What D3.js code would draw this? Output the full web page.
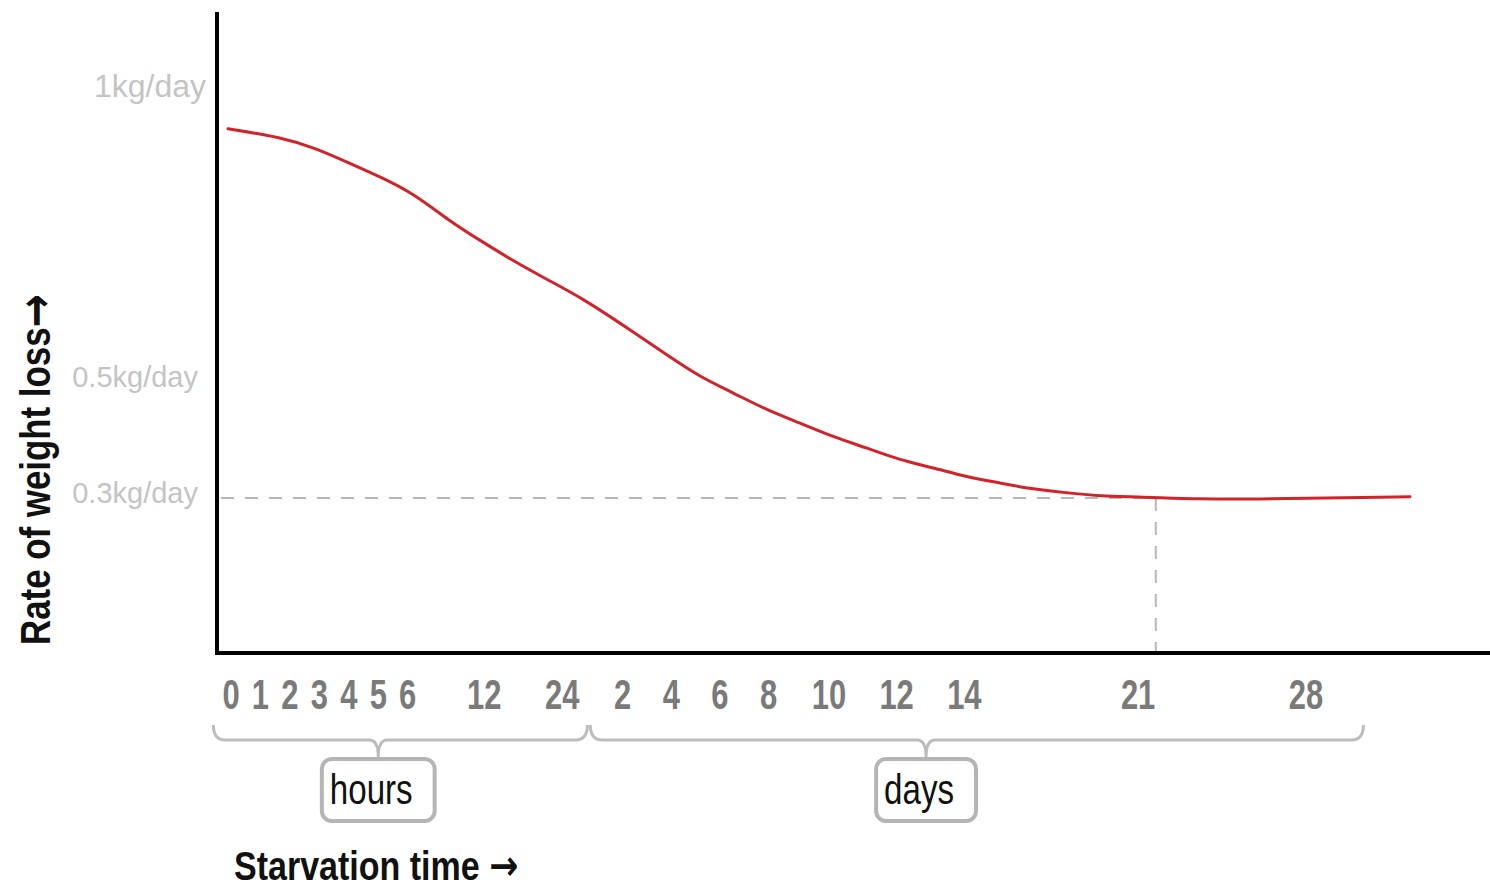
<!DOCTYPE html>
<html>
<head>
<meta charset="utf-8">
<script src="https://cdn.jsdelivr.net/npm/d3@7"></script>
<style>
  html, body { margin: 0; padding: 0; background: #fff; }
  svg { display: block; }
</style>
</head>
<body>
<svg id="chart" width="1490" height="891"></svg>
<script>
// ---- data ----
const tickLabels = ["0","1","2","3","4","5","6","12","24","2","4","6","8","10","12","14","21","28"];
// position of each tick along the (schematic, non-uniform) time axis, in axis units
const tickPos = [0, 1, 2, 3, 4, 5, 6, 8.6, 11.25, 13.3, 14.95, 16.6, 18.25, 20.3, 22.6, 24.9, 30.8, 36.5];

const yTickValues = [1, 0.5, 0.3];
const yTickLabels = ["1kg/day", "0.5kg/day", "0.3kg/day"];

// rate of weight loss curve (axis units, kg/day)
const curvePos = [-0.1, 1.73, 2.85, 3.97, 5.13, 6.25, 7.37, 8.52, 9.64, 10.76, 11.92, 13.65, 14.8, 15.93, 17.05, 18.2, 19.32, 20.44, 21.6, 22.72, 23.84, 24.99, 26.11, 27.23, 28.39, 29.51, 30.87, 32.9, 34.94, 36.98, 40.03];
const curveRate = [0.935, 0.92, 0.902, 0.877, 0.851, 0.822, 0.778, 0.741, 0.706, 0.675, 0.644, 0.586, 0.546, 0.508, 0.481, 0.451, 0.429, 0.405, 0.386, 0.365, 0.352, 0.336, 0.326, 0.315, 0.309, 0.303, 0.302, 0.298, 0.298, 0.3, 0.302];

const plateauRate = 0.3;
const plateauPos = 31.4;

const groupLabels = ["hours", "days"];
const groupStart = [-0.6, 12.2];
const groupEnd = [12.1, 38.45];
const groupMid = [5.0, 23.6];

const xTitle = "Starvation time ";
const yTitle = "Rate of weight loss";
const arrow = "\u2192";

// ---- layout ----
const axisX = 217, axisTop = 12, axisBottom = 653, axisRight = 1490;

const x = d3.scaleLinear().domain([0, 36.5]).range([231, 1306]);
const y = d3.scaleLinear().domain([0.3, 1]).range([498, 91]);

const svg = d3.select("#chart");
const FONT = "'Liberation Sans', Arial, Helvetica, sans-serif";

// dashed reference lines
svg.append("line")
  .attr("x1", axisX + 4).attr("x2", x(plateauPos))
  .attr("y1", y(plateauRate)).attr("y2", y(plateauRate))
  .attr("stroke", "#b8b8b8").attr("stroke-width", 2)
  .attr("stroke-dasharray", "13,11");
svg.append("line")
  .attr("x1", x(plateauPos)).attr("x2", x(plateauPos))
  .attr("y1", y(plateauRate)).attr("y2", axisBottom)
  .attr("stroke", "#b8b8b8").attr("stroke-width", 2)
  .attr("stroke-dasharray", "13,11");

// curve
const pts = curvePos.map((p, i) => [p, curveRate[i]]);
svg.append("path")
  .datum(pts)
  .attr("fill", "none")
  .attr("stroke", "#d2232a")
  .attr("stroke-width", 3)
  .attr("stroke-linecap", "round")
  .attr("d", d3.line().x(d => x(d[0])).y(d => y(d[1])).curve(d3.curveBasis));

// axes
svg.append("line")
  .attr("x1", axisX).attr("x2", axisX).attr("y1", axisTop).attr("y2", axisBottom + 2)
  .attr("stroke", "#000").attr("stroke-width", 4);
svg.append("line")
  .attr("x1", axisX - 2).attr("x2", axisRight).attr("y1", axisBottom).attr("y2", axisBottom)
  .attr("stroke", "#000").attr("stroke-width", 4);

// y tick labels
svg.selectAll("text.ytick")
  .data(yTickValues)
  .join("text")
  .attr("class", "ytick")
  .attr("x", (d, i) => i === 0 ? 206 : 198)
  .attr("y", d => y(d) - 5)
  .attr("dy", "0.35em")
  .attr("text-anchor", "end")
  .attr("font-family", FONT)
  .attr("font-size", (d, i) => i === 0 ? 32 : 29)
  .attr("fill", "#c4c4c4")
  .text((d, i) => yTickLabels[i]);

// x tick labels (condensed)
svg.selectAll("text.xtick")
  .data(tickPos)
  .join("text")
  .attr("class", "xtick")
  .attr("transform", d => `translate(${x(d)},709) scale(0.72,1)`)
  .attr("text-anchor", "middle")
  .attr("font-family", FONT)
  .attr("font-weight", "bold")
  .attr("font-size", 43)
  .attr("fill", "#7a7a7a")
  .text((d, i) => tickLabels[i]);

// braces + boxes
const braceTop = 725, braceY = 740, tipY = 757;
groupLabels.forEach((lab, i) => {
  const x0 = x(groupStart[i]), x1 = x(groupEnd[i]), xm = x(groupMid[i]);
  const r = 12;
  const p = d3.path();
  p.moveTo(x0, braceTop);
  p.quadraticCurveTo(x0, braceY, x0 + r, braceY);
  p.lineTo(xm - 9, braceY);
  p.quadraticCurveTo(xm, braceY, xm, tipY);
  p.quadraticCurveTo(xm, braceY, xm + 9, braceY);
  p.lineTo(x1 - r, braceY);
  p.quadraticCurveTo(x1, braceY, x1, braceTop);
  svg.append("path").attr("d", p.toString())
    .attr("fill", "none").attr("stroke", "#bdbdbd").attr("stroke-width", 3);

  const sx = 0.77;
  const t = svg.append("text")
    .attr("transform", `translate(${xm - 7},804) scale(${sx},1)`)
    .attr("text-anchor", "middle")
    .attr("font-family", FONT)
    .attr("font-size", 43)
    .attr("fill", "#111")
    .text(lab);
  const w = t.node().getComputedTextLength() * sx + 30;
  svg.insert("rect", "text")
    .attr("x", xm - w / 2).attr("y", 759)
    .attr("width", w).attr("height", 62)
    .attr("rx", 10)
    .attr("fill", "#fff").attr("stroke", "#b5b5b5").attr("stroke-width", 4);
});

// axis titles
const xt = svg.append("text")
  .attr("transform", "translate(234,880) scale(0.83,1)")
  .attr("font-family", FONT)
  .attr("font-weight", "bold")
  .attr("font-size", 41)
  .attr("fill", "#111");
xt.append("tspan").text(xTitle);
xt.append("tspan").attr("font-family", "'DejaVu Sans', sans-serif").attr("font-size", 42).text(arrow);

const yt = svg.append("text")
  .attr("transform", "translate(50,645) rotate(-90) scale(0.83,1)")
  .attr("font-family", FONT)
  .attr("font-weight", "bold")
  .attr("font-size", 42)
  .attr("fill", "#111");
yt.append("tspan").text(yTitle);
yt.append("tspan").attr("font-family", "'DejaVu Sans', sans-serif").attr("font-size", 48).attr("dy", 2).text(arrow);
</script>
</body>
</html>
